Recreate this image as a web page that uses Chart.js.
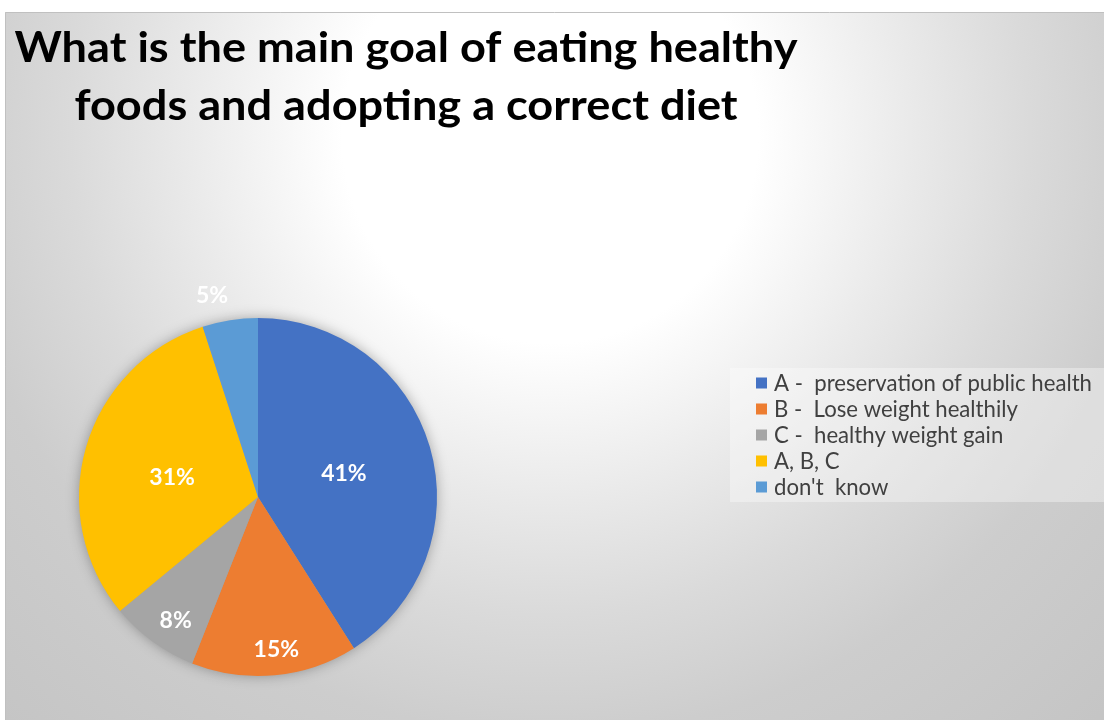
<!DOCTYPE html>
<html>
<head>
<meta charset="utf-8">
<script src="https://cdn.jsdelivr.net/npm/chart.js@4/dist/chart.umd.min.js"></script>
<style>
  html, body { margin: 0; padding: 0; background: #ffffff; }
  #wrap { position: relative; width: 1104px; height: 720px; }
  canvas { display: block; }
</style>
</head>
<body>
<div id="wrap"><canvas id="c" width="1104" height="720"></canvas></div>
<script>
// ---- data ----
const titleLines = ["What is the main goal of eating healthy", "foods and adopting a correct diet"];
const categories = [
  "A -  preservation of public health",
  "B -  Lose weight healthily",
  "C -  healthy weight gain",
  "A, B, C",
  "don't  know"
];
const percentages = [41, 15, 8, 31, 5];
const sliceColors = ["#4472C4", "#ED7D31", "#A5A5A5", "#FFC000", "#5B9BD5"];

// label placement (fraction of radius, pixel nudges) — style, not data
const labelRadiusFrac = [0.5, 0.85, 0.83, 0.5, 1.14];
const labelDx = [0, 4, 5, 0, -14];
const labelDy = [2, 1, 3, 6, 0];

const FONT = "Lato, 'Open Sans', 'DejaVu Sans', sans-serif";

function fitText(ctx, text, weight, targetW) {
  ctx.font = weight + ' 100px ' + FONT;
  const w = ctx.measureText(text).width;
  const size = 100 * targetW / w;
  ctx.font = weight + ' ' + size.toFixed(2) + 'px ' + FONT;
  return size;
}

const backgroundPlugin = {
  id: 'bg',
  beforeDraw(chart) {
    const ctx = chart.ctx;
    ctx.save();
    ctx.fillStyle = '#ffffff';
    ctx.fillRect(0, 0, chart.width, chart.height);
    const g = ctx.createRadialGradient(550, 135, 0, 550, 135, 800);
    g.addColorStop(0, '#ffffff');
    g.addColorStop(0.26, '#ffffff');
    g.addColorStop(0.45, '#eaeaea');
    g.addColorStop(0.6, '#dadada');
    g.addColorStop(0.75, '#cdcdcd');
    g.addColorStop(1, '#c5c5c5');
    ctx.fillStyle = g;
    ctx.fillRect(5, 12, chart.width - 5, chart.height - 12);
    ctx.strokeStyle = '#c0c0c0';
    ctx.lineWidth = 1;
    ctx.beginPath();
    ctx.moveTo(5.5, chart.height);
    ctx.lineTo(5.5, 12.5);
    ctx.lineTo(chart.width, 12.5);
    ctx.stroke();

    // title (fit width, then stretch to reference cap height)
    ctx.fillStyle = '#000000';
    ctx.textAlign = 'center';
    ctx.textBaseline = 'alphabetic';
    fitText(ctx, titleLines[0], 'bold', 783);
    const cap = ctx.measureText('W').actualBoundingBoxAscent || 28;
    const sy = Math.min(1.2, 31 / cap);
    [[titleLines[0], 62], [titleLines[1], 120]].forEach(([t, by]) => {
      ctx.save();
      ctx.translate(406, by);
      ctx.scale(1, sy);
      ctx.fillText(t, 0, 0);
      ctx.restore();
    });

    // legend box
    ctx.fillStyle = 'rgba(255,255,255,0.35)';
    ctx.fillRect(730, 368, chart.width - 730, 134);
    ctx.restore();
  },
  beforeDatasetsDraw(chart) {
    // soft shadow under the pie
    const meta = chart.getDatasetMeta(0);
    const a = meta.data[0];
    if (!a) return;
    const p = a.getProps(['x', 'y', 'outerRadius'], true);
    const ctx = chart.ctx;
    ctx.save();
    ctx.shadowColor = 'rgba(0,0,0,0.35)';
    ctx.shadowBlur = 14;
    ctx.fillStyle = '#a0a0a0';
    ctx.beginPath();
    ctx.arc(p.x, p.y, p.outerRadius - 1, 0, Math.PI * 2);
    ctx.fill();
    ctx.restore();
  },
  afterDraw(chart) {
    const ctx = chart.ctx;
    ctx.save();
    // legend entries
    fitText(ctx, chart.data.labels[0], 'normal', 318);
    ctx.textAlign = 'left';
    ctx.textBaseline = 'middle';
    chart.data.labels.forEach((lab, i) => {
      const y = 383 + i * 26;
      ctx.fillStyle = chart.data.datasets[0].backgroundColor[i];
      ctx.fillRect(756, y - 5.5, 11, 11);
      ctx.fillStyle = '#404040';
      ctx.fillText(lab, 774, y + 1);
    });

    // data labels
    const meta = chart.getDatasetMeta(0);
    ctx.font = 'bold 23px ' + FONT;
    ctx.fillStyle = '#ffffff';
    ctx.textAlign = 'center';
    ctx.textBaseline = 'middle';
    meta.data.forEach((arc, i) => {
      const p = arc.getProps(['x', 'y', 'startAngle', 'endAngle', 'outerRadius'], true);
      const mid = (p.startAngle + p.endAngle) / 2;
      const r = p.outerRadius * labelRadiusFrac[i];
      const x = p.x + Math.cos(mid) * r + labelDx[i];
      const y = p.y + Math.sin(mid) * r + labelDy[i];
      ctx.fillText(chart.data.datasets[0].data[i] + '%', x, y);
    });
    ctx.restore();
  }
};

new Chart(document.getElementById('c'), {
  type: 'pie',
  data: {
    labels: categories,
    datasets: [{
      data: percentages,
      backgroundColor: sliceColors,
      borderWidth: 0,
      hoverOffset: 0,
      offset: 0
    }]
  },
  options: {
    responsive: false,
    animation: false,
    layout: { padding: { left: 79, top: 318, right: 667, bottom: 44 } },
    plugins: {
      legend: { display: false },
      title: { display: false },
      tooltip: { enabled: false }
    }
  },
  plugins: [backgroundPlugin]
});
</script>
</body>
</html>
